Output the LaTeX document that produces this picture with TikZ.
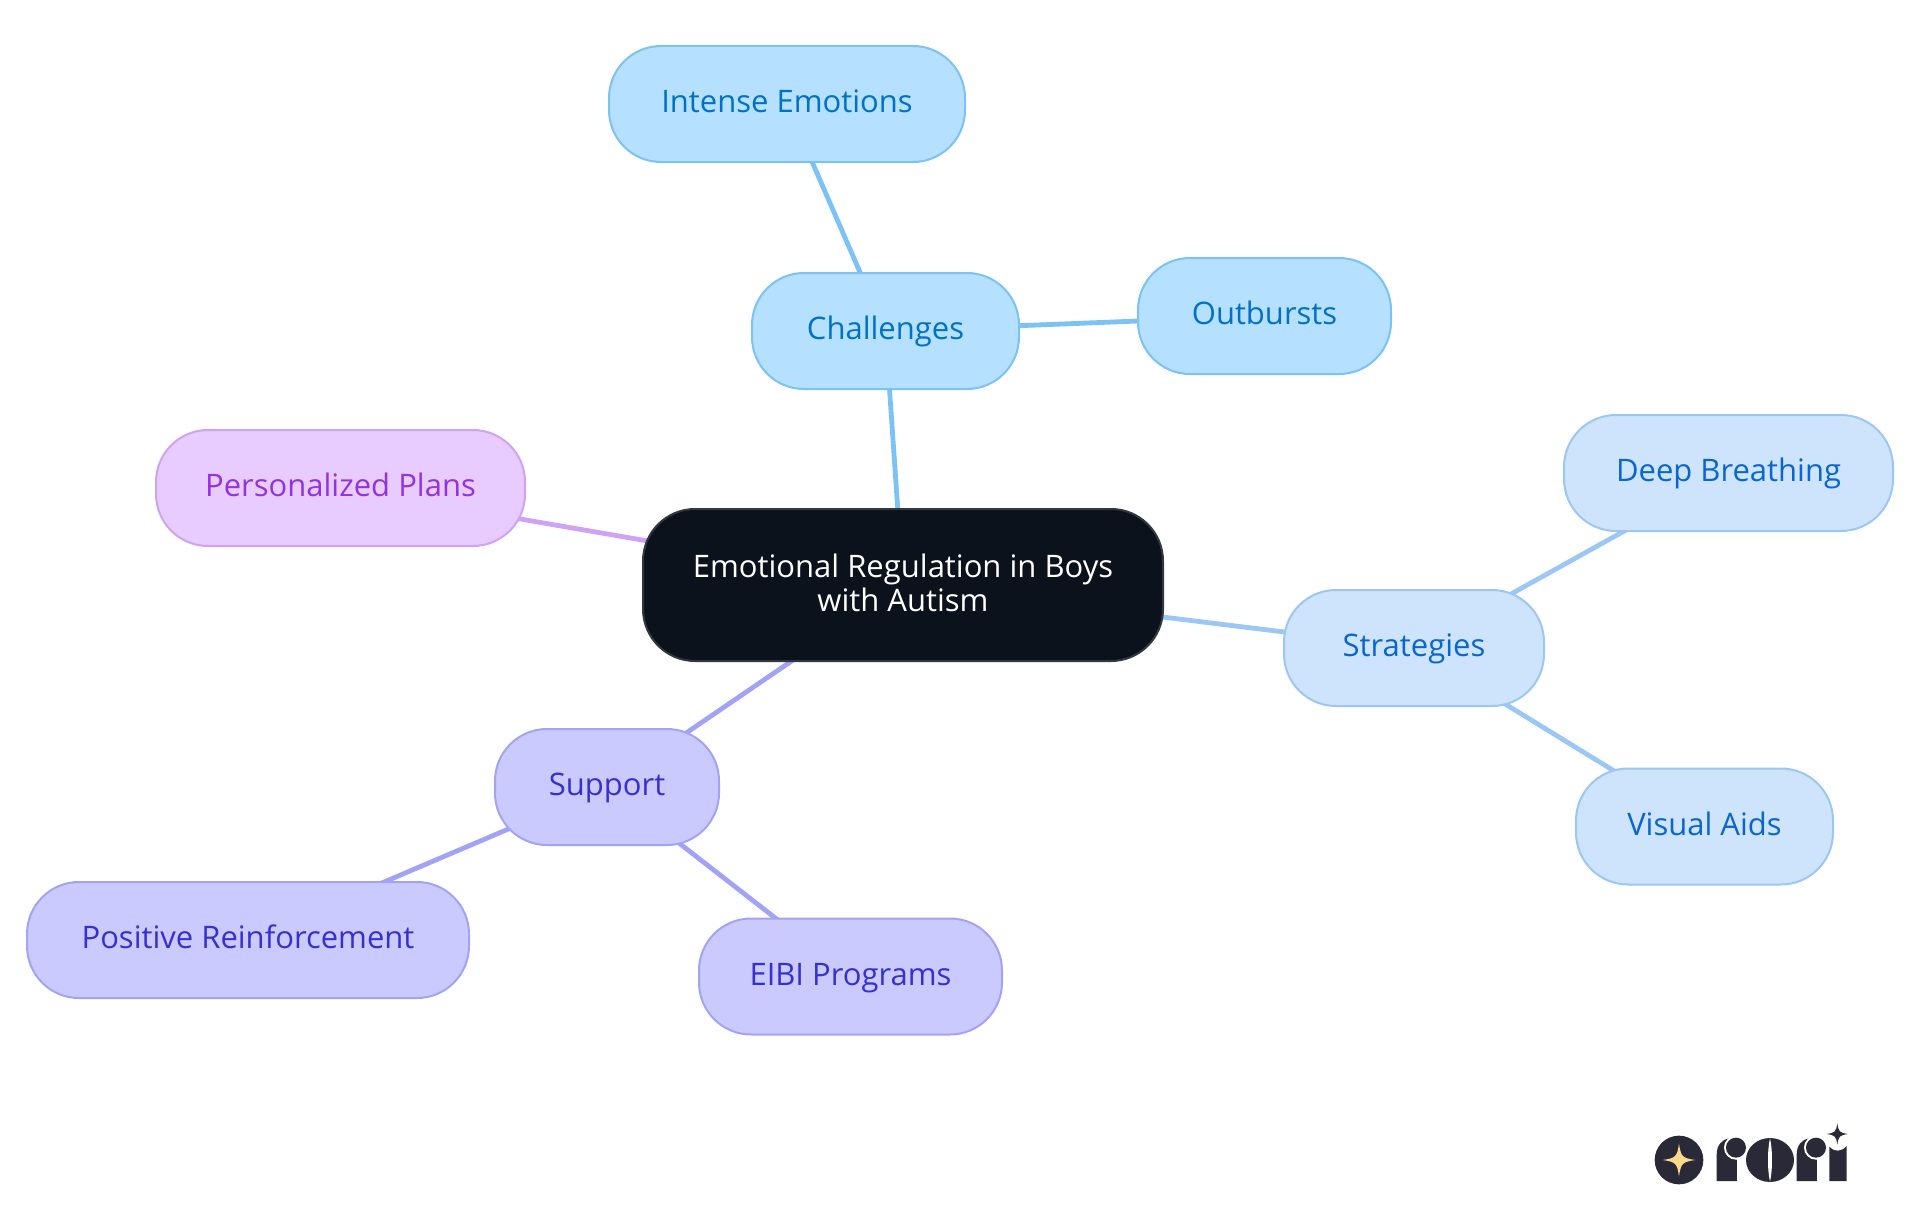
\documentclass[tikz,border=0pt]{standalone}
\usepackage{fontspec}
\setmainfont{Open Sans}
\usetikzlibrary{backgrounds}
\definecolor{skyF}{HTML}{B5E0FF}\definecolor{skyD}{HTML}{7CC2F5}\definecolor{skyT}{HTML}{0071C4}
\definecolor{bluF}{HTML}{CEE3FC}\definecolor{bluD}{HTML}{9CC7F5}\definecolor{bluT}{HTML}{0A66CF}
\definecolor{purF}{HTML}{E8CCFF}\definecolor{purD}{HTML}{CFA3F3}\definecolor{purT}{HTML}{9333DF}
\definecolor{indF}{HTML}{CACAFF}\definecolor{indD}{HTML}{A3A3F6}\definecolor{indT}{HTML}{3730D0}
\definecolor{rootF}{HTML}{0B121B}\definecolor{rootD}{HTML}{33383F}
\definecolor{logoD}{HTML}{2A2937}\definecolor{logoG}{HTML}{FBD98B}
\tikzset{
  pill/.style={rounded corners=52pt,line width=2pt,minimum height=116pt,inner sep=0pt,align=center,font=\fontsize{31}{34}\selectfont},
  leaf/.style={pill,text height=24pt,text depth=7pt},
  sky/.style={leaf,fill=skyF,draw=skyD,text=skyT},
  blu/.style={leaf,fill=bluF,draw=bluD,text=bluT},
  pur/.style={leaf,fill=purF,draw=purD,text=purT},
  ind/.style={leaf,fill=indF,draw=indD,text=indT},
  root/.style={pill,rounded corners=52pt,fill=rootF,draw=rootD,text=white,minimum height=152pt,minimum width=520pt,text depth=5pt},
  link/.style={line width=4.8pt},
}
\newcommand{\fourstar}[3]{% centre x, y, radius
  (#1-#3,#2) .. controls (#1-0.2*#3,#2-0.12*#3) and (#1-0.12*#3,#2-0.2*#3) .. (#1,#2-#3)
  .. controls (#1+0.12*#3,#2-0.2*#3) and (#1+0.2*#3,#2-0.12*#3) .. (#1+#3,#2)
  .. controls (#1+0.2*#3,#2+0.12*#3) and (#1+0.12*#3,#2+0.2*#3) .. (#1,#2+#3)
  .. controls (#1-0.12*#3,#2+0.2*#3) and (#1-0.2*#3,#2+0.12*#3) .. (#1-#3,#2) -- cycle}
\begin{document}
\begin{tikzpicture}[x=1pt,y=-1pt]
\useasboundingbox (0,0) rectangle (1920,1215);
\node[root] (r) at (903,585) {Emotional Regulation in Boys\\with Autism};
\node[sky,minimum width=267pt] (ch) at (885.5,331) {Challenges};
\node[sky,minimum width=356pt] (ie) at (787,104) {Intense Emotions};
\node[sky,minimum width=253pt] (ou) at (1264.5,316) {Outbursts};
\node[pur,minimum width=369pt] (pp) at (340.5,488) {Personalized Plans};
\node[blu,minimum width=260pt] (st) at (1414,648) {Strategies};
\node[blu,minimum width=329pt] (db) at (1728.5,473) {Deep Breathing};
\node[blu,minimum width=257pt] (va) at (1704.5,826.5) {Visual Aids};
\node[ind,minimum width=224pt] (su) at (607,787) {Support};
\node[ind,minimum width=442pt] (pr) at (248,940) {Positive Reinforcement};
\node[ind,minimum width=303pt] (ei) at (850.5,976.5) {EIBI Programs};
\begin{scope}[on background layer]
\draw[link,skyD] (r.center) -- (ch.center);
\draw[link,skyD] (ch.center) -- (ie.center);
\draw[link,skyD] (ch.center) -- (ou.center);
\draw[link,purD] (r.center) -- (pp.center);
\draw[link,bluD] (r.center) -- (st.center);
\draw[link,bluD] (st.center) -- (db.center);
\draw[link,bluD] (st.center) -- (va.center);
\draw[link,indD] (r.center) -- (su.center);
\draw[link,indD] (su.center) -- (pr.center);
\draw[link,indD] (su.center) -- (ei.center);
\end{scope}
% logo, in the coordinates of a 3x crop
\begin{scope}[x=0.3333pt,y=-0.3333pt,shift={(1620pt,-1100pt)}]
\fill[logoD] (177,180) circle (73);
\fill[logoG] \fourstar{177}{180}{49};
% r
\fill[logoD] (290,243) -- (290,165) .. controls (290,135) and (305,118) .. (330,115) -- (350,115) -- (350,243) -- cycle;
\fill[white] (348,143) circle (36);
\fill[logoD] (350,243) -- (350,180) -- (290,180) -- (290,243) -- cycle;
\fill[logoD] (348,143) circle (30);
% o
\fill[logoD] (450,180) ellipse (72 and 66);
\fill[white] (450,115) .. controls (442,150) and (442,210) .. (450,245) .. controls (458,210) and (458,150) .. (450,115) -- cycle;
% r
\fill[logoD] (530,243) -- (530,165) .. controls (530,135) and (545,118) .. (570,115) -- (590,115) -- (590,243) -- cycle;
\fill[white] (588,143) circle (36);
\fill[logoD] (590,243) -- (590,180) -- (530,180) -- (530,243) -- cycle;
\fill[logoD] (588,143) circle (30);
% i
\fill[logoD] (628,243) -- (628,140) .. controls (645,158) and (665,155) .. (680,138) -- (680,243) -- cycle;
\fill[logoD] \fourstar{652}{102}{32};
\end{scope}
\end{tikzpicture}
\end{document}
